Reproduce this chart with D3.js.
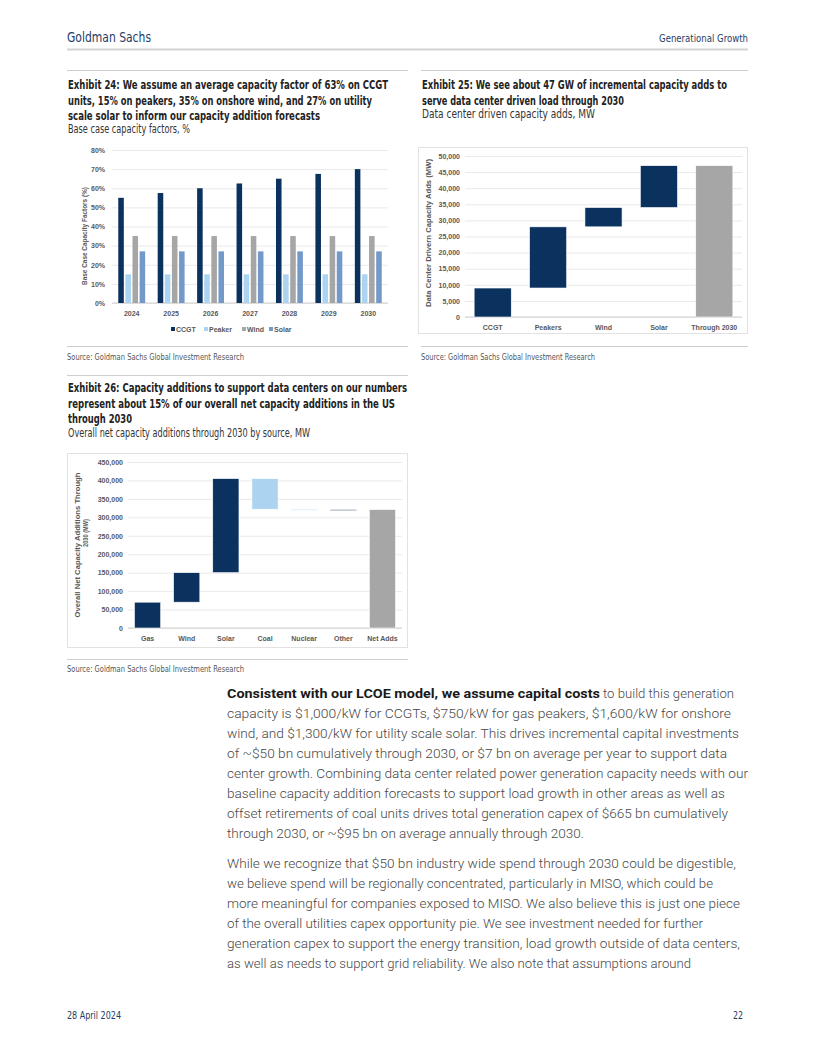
<!DOCTYPE html>
<html><head><meta charset="utf-8">
<script src="https://cdn.jsdelivr.net/npm/d3@7"></script>
<style>body{margin:0;background:#fff;}svg{display:block;}</style>
</head><body>
<svg id="page" width="816" height="1056"></svg>
<script>
// ---------- DATA ----------
const cfYears = ["2024","2025","2026","2027","2028","2029","2030"];
const cfSeries = ["CCGT","Peaker","Wind","Solar"];
const cfCCGT = [55,57.5,60,62.5,65,67.5,70];
const cfPeaker = [15,15,15,15,15,15,15];
const cfWind = [35,35,35,35,35,35,35];
const cfSolar = [27,27,27,27,27,27,27];
const cfTicks = [0,10,20,30,40,50,60,70,80];

const dcCategories = ["CCGT","Peakers","Wind","Solar","Through 2030"];
const dcAdds = [9000,19000,6000,13000];
const dcTotal = 47000;
const dcTicks = [0,5000,10000,15000,20000,25000,30000,35000,40000,45000,50000];

const netCategories = ["Gas","Wind","Solar","Coal","Nuclear","Other","Net Adds"];
const netAdds = [70000,80000,255000,-83000,-2000,1000];
const netTotal = 321000;
const netTicks = [0,50000,100000,150000,200000,250000,300000,350000,400000,450000];

// ---------- STYLE ----------
const COND = "'Liberation Sans Narrow','DejaVu Sans Condensed','Arial Narrow',sans-serif";
const SANS = "'Liberation Sans',Arial,Helvetica,sans-serif";
const NAVY = "#0b325e", LBLUE = "#acd4f0", GRAY = "#a6a6a6", SBLUE = "#7299c8";
const HEAD = "#1f3d66", AXC = "#595959", GRID = "#e9e9e9";

const svg = d3.select("#page");

function txt(x, y, s, o = {}) {
  const t = svg.append("text").attr("x", x).attr("y", y).text(s)
    .attr("font-family", o.family || COND)
    .attr("font-size", o.size || 11.5)
    .attr("font-weight", o.weight || "normal")
    .attr("fill", o.fill || "#222")
    .attr("text-anchor", o.anchor || "start");
  if (o.len) t.attr("textLength", o.len).attr("lengthAdjust", "spacingAndGlyphs");
  return t;
}
function rule(x1, x2, y, c = "#cfcfcf", w = 1) {
  svg.append("line").attr("x1", x1).attr("x2", x2).attr("y1", y).attr("y2", y)
    .attr("stroke", c).attr("stroke-width", w);
}

// ---------- HEADER / FOOTER ----------
txt(67, 42, "Goldman Sachs", {size: 14, fill: HEAD, len: 84});
txt(748, 42, "Generational Growth", {size: 10.5, fill: HEAD, anchor: "end", len: 89});
rule(67, 748, 49.5, "#d3d3d3", 2);
txt(67, 1019, "28 April 2024", {size: 10, fill: HEAD, len: 54});
txt(743, 1019, "22", {size: 10, fill: HEAD, anchor: "end", len: 10});

// ---------- TITLES ----------
rule(67, 408, 70.5); rule(421, 748, 70.5);
txt(68, 89, "Exhibit 24: We assume an average capacity factor of 63% on CCGT", {weight: "bold", len: 320});
txt(68, 104.5, "units, 15% on peakers, 35% on onshore wind, and 27% on utility", {weight: "bold", len: 304});
txt(68, 120, "scale solar to inform our capacity addition forecasts", {weight: "bold", len: 252});
txt(68, 133, "Base case capacity factors, %", {len: 122, fill: "#333"});

txt(422, 89, "Exhibit 25: We see about 47 GW of incremental capacity adds to", {weight: "bold", len: 305});
txt(422, 104.5, "serve data center driven load through 2030", {weight: "bold", len: 202});
txt(422, 118, "Data center driven capacity adds, MW", {len: 173, fill: "#333"});

rule(67, 408, 346.5); rule(421, 748, 346.5);
txt(67, 360, "Source: Goldman Sachs Global Investment Research", {size: 8, fill: "#555", len: 177});
txt(421, 360, "Source: Goldman Sachs Global Investment Research", {size: 8, fill: "#555", len: 174});

rule(67, 408, 375.5);
txt(68, 392, "Exhibit 26: Capacity additions to support data centers on our numbers", {weight: "bold", len: 339});
txt(68, 407.5, "represent about 15% of our overall net capacity additions in the US", {weight: "bold", len: 327});
txt(68, 423, "through 2030", {weight: "bold", len: 64});
txt(68, 437, "Overall net capacity additions through 2030 by source, MW", {len: 242, fill: "#333"});
rule(67, 408, 659.5);
txt(67, 672, "Source: Goldman Sachs Global Investment Research", {size: 8, fill: "#555", len: 177});

// ---------- CHART 1: grouped bars ----------
(function () {
  const g = svg.append("g");
  const x0 = d3.scaleBand().domain(cfYears).range([112, 388]);
  const x1 = d3.scaleBand().domain(cfSeries).range([0, x0.bandwidth()]).paddingInner(0.22).paddingOuter(0.88);
  const y = d3.scaleLinear().domain([0, 80]).range([303, 150]);
  const colors = {CCGT: NAVY, Peaker: LBLUE, Wind: GRAY, Solar: SBLUE};
  const vals = {CCGT: cfCCGT, Peaker: cfPeaker, Wind: cfWind, Solar: cfSolar};

  const ya = g.append("g").attr("transform", "translate(112,0)")
    .call(d3.axisLeft(y).tickValues(cfTicks).tickSize(-276).tickPadding(7).tickFormat(d => d + "%"));
  ya.select(".domain").remove();
  ya.selectAll("line").attr("stroke", GRID);
  ya.selectAll("text").attr("font-family", SANS).attr("font-size", 7).attr("font-weight", "bold").attr("fill", AXC);
  g.append("line").attr("x1", 112).attr("x2", 388).attr("y1", y(0)).attr("y2", y(0)).attr("stroke", "#d0d0d0");

  cfYears.forEach((yr, i) => {
    cfSeries.forEach(s => {
      g.append("rect").attr("x", x0(yr) + x1(s)).attr("width", x1.bandwidth())
        .attr("y", y(vals[s][i])).attr("height", y(0) - y(vals[s][i])).attr("fill", colors[s]);
    });
  });
  const xa = g.append("g").attr("transform", `translate(0,${y(0)})`)
    .call(d3.axisBottom(x0).tickSize(0).tickPadding(8));
  xa.select(".domain").remove();
  xa.selectAll("text").attr("font-family", SANS).attr("font-size", 7).attr("font-weight", "bold").attr("fill", AXC);

  g.append("text").attr("transform", "translate(86.5,236) rotate(-90)").attr("text-anchor", "middle")
    .attr("font-family", SANS).attr("font-size", 7).attr("font-weight", "bold").attr("fill", AXC)
    .attr("textLength", 98).attr("lengthAdjust", "spacingAndGlyphs").text("Base Case Capacity Factors (%)");

  const lx = [171, 204, 242, 269];
  cfSeries.forEach((s, i) => {
    g.append("rect").attr("x", lx[i]).attr("y", 327).attr("width", 4).attr("height", 4).attr("fill", colors[s]);
    g.append("text").attr("x", lx[i] + 5).attr("y", 331.5).attr("font-family", SANS).attr("font-size", 7)
      .attr("font-weight", "bold").attr("fill", AXC).text(s);
  });
})();

// ---------- waterfall helper ----------
function waterfall(cfg) {
  const g = svg.append("g");
  g.append("rect").attr("x", cfg.box[0]).attr("y", cfg.box[1]).attr("width", cfg.box[2]).attr("height", cfg.box[3])
    .attr("fill", "none").attr("stroke", "#e2e2e2");
  const x = d3.scaleBand().domain(cfg.cats).range(cfg.xr).paddingInner(0.33).paddingOuter(0.165);
  const y = d3.scaleLinear().domain([0, cfg.ticks[cfg.ticks.length - 1]]).range(cfg.yr);
  const ya = g.append("g").attr("transform", `translate(${cfg.xr[0]},0)`)
    .call(d3.axisLeft(y).tickValues(cfg.ticks).tickSize(-(cfg.xr[1] - cfg.xr[0])).tickPadding(5).tickFormat(d3.format(",")));
  ya.select(".domain").remove();
  ya.selectAll("line").attr("stroke", GRID);
  ya.selectAll("text").attr("font-family", SANS).attr("font-size", 7).attr("font-weight", "bold").attr("fill", AXC);
  g.append("line").attr("x1", cfg.xr[0]).attr("x2", cfg.xr[1]).attr("y1", y(0)).attr("y2", y(0)).attr("stroke", "#d0d0d0");

  let run = 0;
  const bars = cfg.vals.map((v, i) => {
    const a = run, b = run + v; run = b;
    return {cat: cfg.cats[i], lo: Math.min(a, b), hi: Math.max(a, b), col: v >= 0 ? NAVY : LBLUE};
  });
  bars.push({cat: cfg.cats[cfg.cats.length - 1], lo: 0, hi: cfg.total, col: GRAY});
  g.selectAll("rect.bar").data(bars).join("rect").attr("class", "bar")
    .attr("x", d => x(d.cat)).attr("width", x.bandwidth())
    .attr("y", d => y(d.hi)).attr("height", d => Math.max(y(d.lo) - y(d.hi), 1))
    .attr("fill", d => d.col).attr("stroke", "#ffffff").attr("stroke-width", 0.6);

  const xa = g.append("g").attr("transform", `translate(0,${y(0)})`)
    .call(d3.axisBottom(x).tickSize(0).tickPadding(8));
  xa.select(".domain").remove();
  xa.selectAll("text").attr("font-family", SANS).attr("font-size", 7).attr("font-weight", "bold").attr("fill", AXC);
  cfg.titles.forEach(t => {
    g.append("text").attr("transform", `translate(${t.x},${t.y}) rotate(-90)`).attr("text-anchor", "middle")
      .attr("font-family", SANS).attr("font-size", 7).attr("font-weight", "bold").attr("fill", AXC)
      .attr("textLength", t.len).attr("lengthAdjust", "spacingAndGlyphs").text(t.s);
  });
}

// ---------- CHART 2 ----------
waterfall({cats: dcCategories, vals: dcAdds, total: dcTotal, ticks: dcTicks,
  xr: [465, 742], yr: [317, 156], box: [418.5, 147.5, 329, 186],
  titles: [{x: 430.5, y: 233, s: "Data Center Drivern Capacity Adds (MW)", len: 148}]});

// ---------- CHART 3 ----------
waterfall({cats: netCategories, vals: netAdds, total: netTotal, ticks: netTicks,
  xr: [128, 402], yr: [628, 462], box: [67.5, 453.5, 340, 194],
  titles: [{x: 79.5, y: 545, s: "Overall Net Capacity Additions  Through", len: 145},
           {x: 87.5, y: 533, s: "2030 (MW)", len: 28}]});

// ---------- BODY TEXT ----------
const BODY = {family: "Roboto,'Liberation Sans',Arial,sans-serif", size: 13, fill: "#474747", weight: 300};
txt(227, 698, "Consistent with our LCOE model, we assume capital costs", {...BODY, weight: "bold", fill: "#1a1a1a", len: 373});
txt(603, 698, "to build this generation", {...BODY, len: 131});
const p1 = [
  ["capacity is $1,000/kW for CCGTs, $750/kW for gas peakers, $1,600/kW for onshore", 731],
  ["wind, and $1,300/kW for utility scale solar. This drives incremental capital investments", 739],
  ["of ~$50 bn cumulatively through 2030, or $7 bn on average per year to support data", 727],
  ["center growth. Combining data center related power generation capacity needs with our", 748],
  ["baseline capacity addition forecasts to support load growth in other areas as well as", 725],
  ["offset retirements of coal units drives total generation capex of $665 bn cumulatively", 728],
  ["through 2030, or ~$95 bn on average annually through 2030.", 584]
];
p1.forEach((l, i) => txt(227, 718 + i * 20, l[0], {...BODY, len: l[1] - 227}));
const p2 = [
  ["While we recognize that $50 bn industry wide spend through 2030 could be digestible,", 736],
  ["we believe spend will be regionally concentrated, particularly in MISO, which could be", 713],
  ["more meaningful for companies exposed to MISO. We also believe this is just one piece", 740],
  ["of the overall utilities capex opportunity pie. We see investment needed for further", 703],
  ["generation capex to support the energy transition, load growth outside of data centers,", 740],
  ["as well as needs to support grid reliability. We also note that assumptions around", 691]
];
p2.forEach((l, i) => txt(227, 868 + i * 20, l[0], {...BODY, len: l[1] - 227}));
</script>
</body></html>
